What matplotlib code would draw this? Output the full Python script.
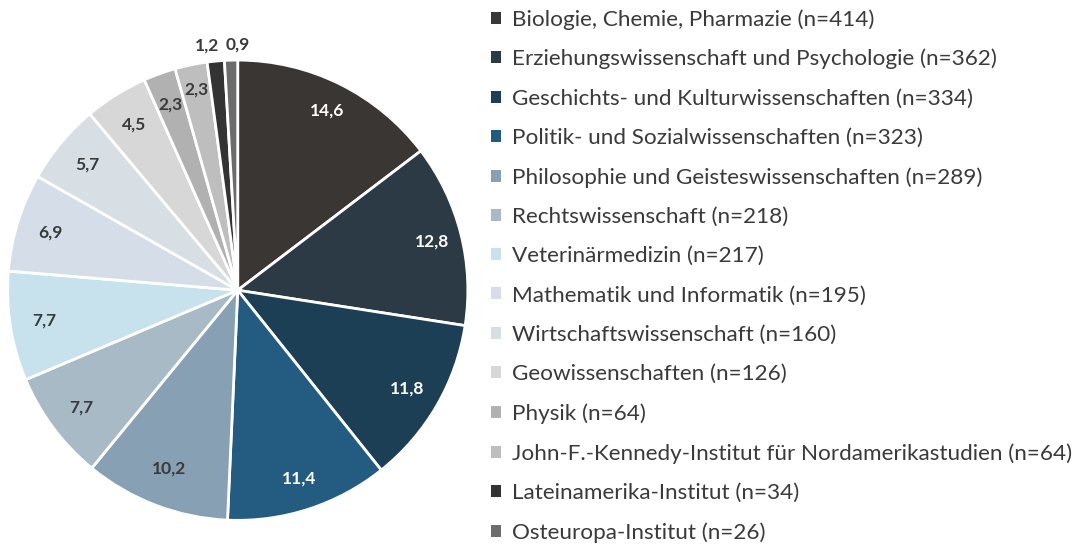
import matplotlib
matplotlib.use("Agg")
import matplotlib.pyplot as plt
import numpy as np
from matplotlib.patches import Patch

plt.rcParams["font.family"] = ["Lato", "DejaVu Sans"]

faculties = [
    "Biologie, Chemie, Pharmazie",
    "Erziehungswissenschaft und Psychologie",
    "Geschichts- und Kulturwissenschaften",
    "Politik- und Sozialwissenschaften",
    "Philosophie und Geisteswissenschaften",
    "Rechtswissenschaft",
    "Veterinärmedizin",
    "Mathematik und Informatik",
    "Wirtschaftswissenschaft",
    "Geowissenschaften",
    "Physik",
    "John-F.-Kennedy-Institut für Nordamerikastudien",
    "Lateinamerika-Institut",
    "Osteuropa-Institut",
]
counts = [414, 362, 334, 323, 289, 218, 217, 195, 160, 126, 64, 64, 34, 26]
percent_labels = ["14,6", "12,8", "11,8", "11,4", "10,2", "7,7", "7,7",
                  "6,9", "5,7", "4,5", "2,3", "2,3", "1,2", "0,9"]
colors = ["#393634", "#2c3a45", "#1d3f55", "#235c80", "#87a0b3", "#a7bac6",
          "#c7e2ed", "#d4dde8", "#d7dee4", "#d7d7d7", "#b1b1b1", "#bebebe",
          "#333333", "#6c6c6c"]
label_colors = ["white"] * 4 + ["#3a3a3a"] * 10
# radial position of each percentage label (fraction of radius), plus small sideways nudge
label_r = [0.87, 0.87, 0.85, 0.86, 0.83, 0.85, 0.85, 0.85, 0.85, 0.85,
           0.86, 0.89, 1.07, 1.07]
label_dx = [0] * 12 + [-0.03, 0.03]

fig = plt.figure(figsize=(10.83, 5.45), dpi=100)
ax = fig.add_axes([0.007, 0.045, 0.425, 0.845])
wedges, _ = ax.pie(counts, colors=colors, startangle=90, counterclock=False,
                   wedgeprops=dict(edgecolor="white", linewidth=2))
ax.set_aspect("equal")
ax.set_xlim(-1.0, 1.0)
ax.set_ylim(-1.0, 1.0)

for w, lab, c, r, dx in zip(wedges, percent_labels, label_colors, label_r, label_dx):
    ang = np.deg2rad((w.theta1 + w.theta2) / 2)
    x, y = r * np.cos(ang) + dx, r * np.sin(ang)
    ax.text(x, y, lab, ha="center", va="center", color=c, fontsize=12.5,
            fontweight="bold")

handles = [Patch(facecolor=c, edgecolor="none") for c in colors]
legend_labels = [f"{f} (n={n})" for f, n in zip(faculties, counts)]
fig.legend(handles, legend_labels, loc="upper left",
           bbox_to_anchor=(0.445, 1.0), frameon=False, fontsize=16.2,
           labelcolor="#3a3a3a", handlelength=0.45, handleheight=0.45,
           handletextpad=0.5, labelspacing=0.855, borderaxespad=0.0)

fig.savefig("out.png", dpi=100)
